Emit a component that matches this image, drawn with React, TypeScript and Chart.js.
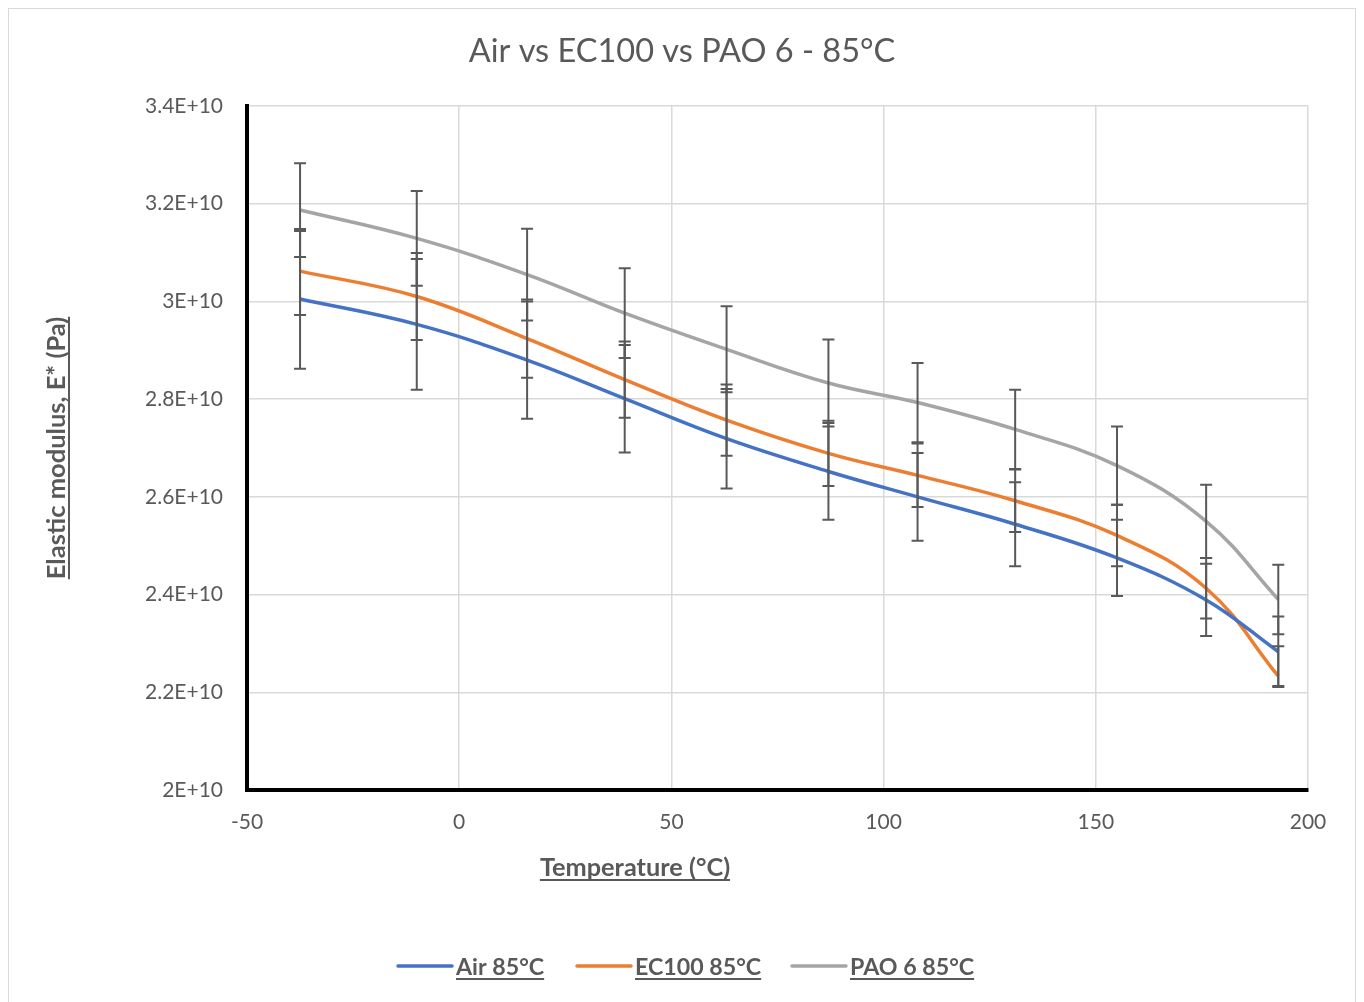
import React, { useEffect, useRef } from "react";
import { Chart, registerables } from "chart.js";

Chart.register(...registerables);

// ---------- data ----------
const temperatures = [-37.5, -10, 16, 39, 63, 87, 108, 131, 155, 176, 193];

const airValues = [3.005e10, 2.953e10, 2.88e10, 2.801e10, 2.719e10, 2.652e10, 2.6e10, 2.544e10, 2.475e10, 2.389e10, 2.283e10];
const airErrors = [0.143e10, 0.134e10, 0.12e10, 0.11e10, 0.102e10, 0.099e10, 0.09e10, 0.086e10, 0.078e10, 0.074e10, 0.072e10];

const ec100Values = [3.062e10, 3.01e10, 2.924e10, 2.84e10, 2.757e10, 2.689e10, 2.644e10, 2.592e10, 2.521e10, 2.413e10, 2.233e10];
const ec100ErrorsUp = [0.082e10, 0.089e10, 0.08e10, 0.078e10, 0.073e10, 0.067e10, 0.065e10, 0.064e10, 0.063e10, 0.062e10, 0.061e10];
const ec100ErrorsDown = [0.09e10, 0.089e10, 0.08e10, 0.078e10, 0.073e10, 0.067e10, 0.065e10, 0.064e10, 0.063e10, 0.062e10, 0.02e10];

const paoValues = [3.187e10, 3.129e10, 3.055e10, 2.976e10, 2.902e10, 2.833e10, 2.793e10, 2.738e10, 2.664e10, 2.55e10, 2.39e10];
const paoErrors = [0.096e10, 0.097e10, 0.094e10, 0.092e10, 0.088e10, 0.089e10, 0.081e10, 0.081e10, 0.08e10, 0.075e10, 0.071e10];

const seriesNames = ["Air 85°C", "EC100 85°C", "PAO 6 85°C"];
const seriesColors = ["#4472C4", "#ED7D31", "#A5A5A5"];

const chartTitle = "Air vs EC100 vs PAO 6 - 85°C";
const xAxisTitle = "Temperature (°C)";
const yAxisTitle = "Elastic modulus, E* (Pa)";

const xMin = -50;
const xMax = 200;
const xStep = 50;
const yMin = 2e10;
const yMax = 3.4e10;
const yStep = 0.2e10;

// ---------- styling ----------
const FONT = "Lato, 'Open Sans', sans-serif";
const TEXT = "#595959";
const W = 1346;
const H = 993;

const errorSets = [
  { up: airErrors, down: airErrors },
  { up: ec100ErrorsUp, down: ec100ErrorsDown },
  { up: paoErrors, down: paoErrors },
];

function underlinedText(ctx: CanvasRenderingContext2D, text: string, x: number, y: number) {
  ctx.textAlign = "center";
  ctx.textBaseline = "alphabetic";
  ctx.fillText(text, x, y);
  const w = ctx.measureText(text).width;
  ctx.fillRect(x - w / 2, y + 3, w, 2);
}

const errorBarPlugin = {
  id: "errorBars",
  afterDatasetsDraw(chart: any) {
    const ctx = chart.ctx as CanvasRenderingContext2D;
    const xs = chart.scales.x;
    const ys = chart.scales.y;
    ctx.save();
    ctx.strokeStyle = "#595959";
    ctx.lineWidth = 2;
    chart.data.datasets.forEach((ds: any, i: number) => {
      const errs = errorSets[i];
      ds.data.forEach((p: any, j: number) => {
        const px = xs.getPixelForValue(p.x);
        const top = ys.getPixelForValue(p.y + errs.up[j]);
        const bot = ys.getPixelForValue(p.y - errs.down[j]);
        ctx.beginPath();
        ctx.moveTo(px, top);
        ctx.lineTo(px, bot);
        ctx.moveTo(px - 6, top);
        ctx.lineTo(px + 6, top);
        ctx.moveTo(px - 6, bot);
        ctx.lineTo(px + 6, bot);
        ctx.stroke();
      });
    });
    ctx.restore();
  },
};

const textPlugin = {
  id: "texts",
  afterDraw(chart: any) {
    const ctx = chart.ctx as CanvasRenderingContext2D;
    ctx.save();
    ctx.fillStyle = TEXT;
    // title
    ctx.font = `32.5px ${FONT}`;
    ctx.textAlign = "center";
    ctx.textBaseline = "alphabetic";
    ctx.fillText(chartTitle, W / 2, 53);

    // axis titles
    ctx.font = `bold 25.3px ${FONT}`;
    underlinedText(ctx, xAxisTitle, 626, 867);
    ctx.save();
    ctx.font = `bold 25.5px ${FONT}`;
    ctx.translate(56, (chart.chartArea.top + chart.chartArea.bottom) / 2);
    ctx.rotate(-Math.PI / 2);
    underlinedText(ctx, yAxisTitle, 0, 0);
    ctx.restore();

    // legend
    const legendX = [389, 568, 783];
    const legendY = 957;
    chart.data.datasets.forEach((ds: any, i: number) => {
      const lx = legendX[i];
      ctx.strokeStyle = seriesColors[i];
      ctx.lineWidth = 3.5;
      ctx.lineCap = "round";
      ctx.beginPath();
      ctx.moveTo(lx, legendY);
      ctx.lineTo(lx + 54, legendY);
      ctx.stroke();
      ctx.font = `bold 23.2px ${FONT}`;
      const w = ctx.measureText(ds.label).width;
      underlinedText(ctx, ds.label, lx + 58 + w / 2, 966);
    });
    ctx.restore();
  },
};

export default function App() {
  const ref = useRef<HTMLCanvasElement | null>(null);

  useEffect(() => {
    if (!ref.current) return;
    const valueSets = [airValues, ec100Values, paoValues];
    const chart = new Chart(ref.current, {
      type: "line",
      data: {
        datasets: valueSets.map((vals, i) => ({
          label: seriesNames[i],
          data: temperatures.map((t, j) => ({ x: t, y: vals[j] })),
          borderColor: seriesColors[i],
          backgroundColor: seriesColors[i],
          borderWidth: 3.5,
          pointRadius: 0,
          tension: 0.4,
          fill: false,
        })),
      },
      options: {
        responsive: false,
        animation: false,
        layout: { padding: { left: 20, right: 47, top: 97, bottom: 172 } },
        plugins: {
          legend: { display: false },
          title: { display: false },
          tooltip: { enabled: false },
        },
        scales: {
          x: {
            type: "linear",
            min: xMin,
            max: xMax,
            ticks: {
              stepSize: xStep,
              padding: 20,
              color: TEXT,
              font: { family: FONT, size: 21 },
            },
            grid: { color: "#d9d9d9", lineWidth: 1.5, drawTicks: false },
            border: { color: "#000000", width: 4 },
            afterFit: (s: any) => {
              s.height = 40;
            },
          },
          y: {
            type: "linear",
            min: yMin,
            max: yMax,
            ticks: {
              stepSize: yStep,
              padding: 24,
              color: TEXT,
              font: { family: FONT, size: 21 },
              callback: (v: any) => `${Math.round(Number(v) / 1e9) / 10}E+10`,
            },
            grid: { color: "#d9d9d9", lineWidth: 1.5, drawTicks: false },
            border: { color: "#000000", width: 4 },
            afterFit: (s: any) => {
              s.width = 218;
            },
          },
        },
      } as any,
      plugins: [errorBarPlugin, textPlugin],
    });
    return () => chart.destroy();
  }, []);

  return (
    <div style={{ width: W, height: H, border: "1px solid #d9d9d9", background: "#fff" }}>
      <canvas ref={ref} width={W} height={H} style={{ display: "block" }} />
    </div>
  );
}
